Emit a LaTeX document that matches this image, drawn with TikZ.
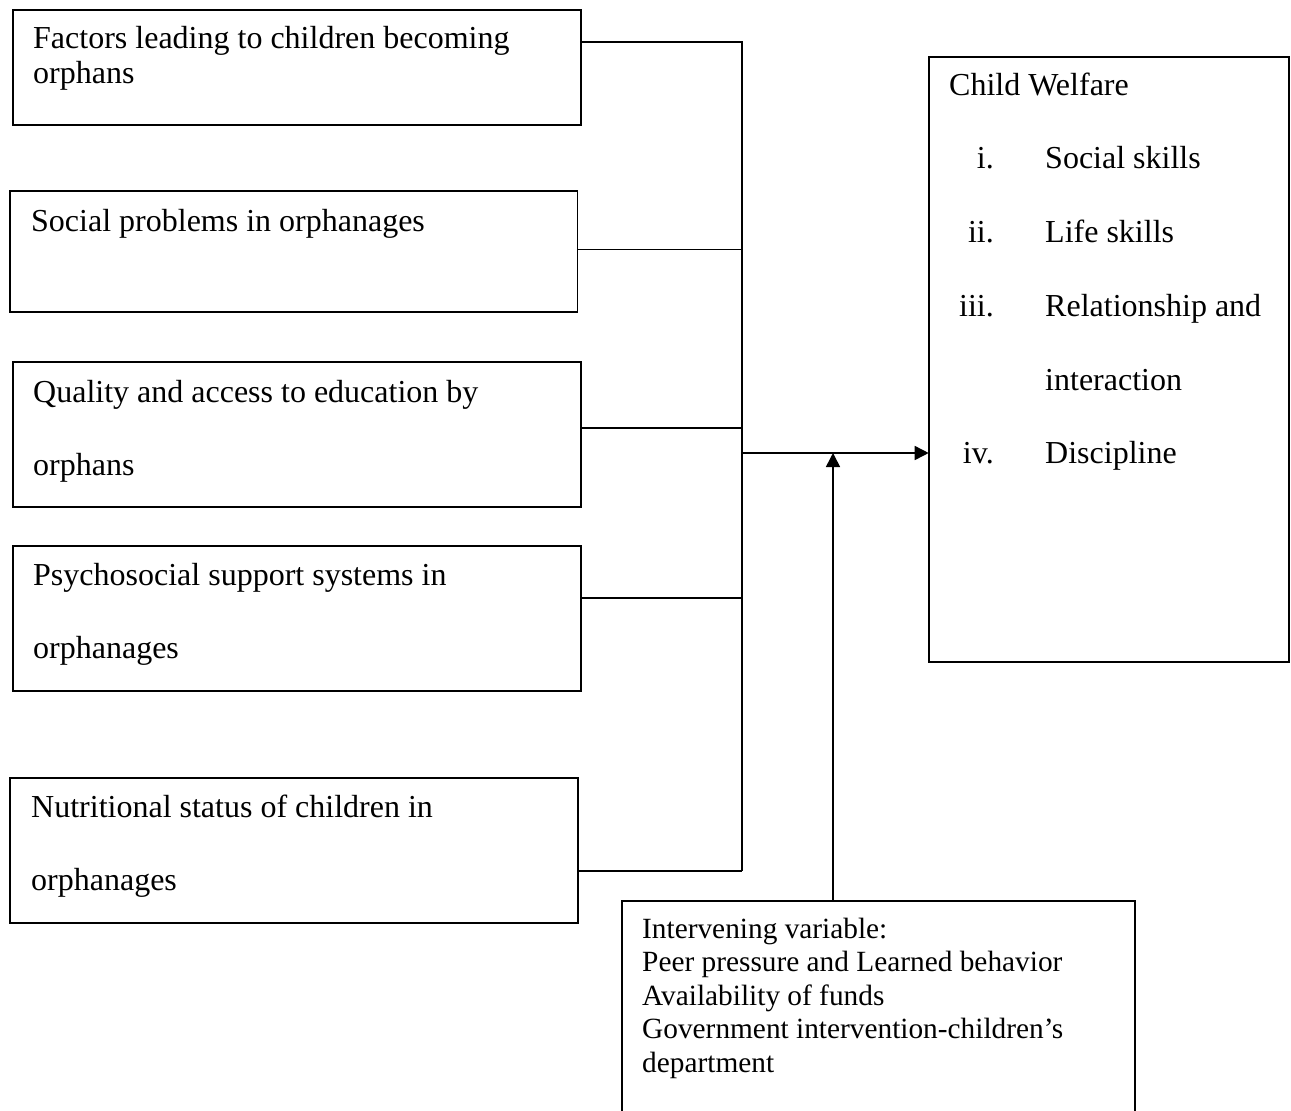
\documentclass[tikz,border=0pt]{standalone}
\usepackage{fontspec}
\setmainfont{Liberation Serif}
\usetikzlibrary{arrows.meta}
\tikzset{
  boxshape/.style={draw=black, line width=1.6pt, rectangle, inner sep=0pt, outer sep=0pt, anchor=north west},
  bigtxt/.style={anchor=base west, inner sep=0pt, font=\fontsize{32}{36.8}\selectfont},
  numtxt/.style={anchor=base east, inner sep=0pt, font=\fontsize{32}{36.8}\selectfont},
  smalltxt/.style={anchor=base west, inner sep=0pt, font=\fontsize{29.33}{33.6}\selectfont},
  conn/.style={draw=black, line width=1.6pt},
  arr/.style={draw=black, line width=1.6pt, -{Triangle[length=14pt,width=14pt]}}
}
\begin{document}
\begin{tikzpicture}[x=1pt,y=1pt]
\useasboundingbox (0,0) rectangle (1291,-1111);
\clip (0,0) rectangle (1291,-1111);
\fill[white] (0,0) rectangle (1291,-1111);

% left boxes
\node[boxshape, minimum width=567.9pt, minimum height=115pt] (b1) at (12.8,-10) {};
\node[boxshape, minimum width=567.1pt, minimum height=121pt] (b2) at (10.2,-190.7) {};
\node[boxshape, minimum width=567.9pt, minimum height=145pt] (b3) at (12.8,-361.7) {};
\node[boxshape, minimum width=567.9pt, minimum height=145pt] (b4) at (12.8,-546) {};
\node[boxshape, minimum width=568pt, minimum height=145pt] (b5) at (10,-778) {};

% right box and intervening box
\node[boxshape, minimum width=360.3pt, minimum height=605pt] (cw) at (928.7,-56.7) {};
\node[boxshape, minimum width=513pt, minimum height=240pt] (iv) at (622,-901) {};

% texts of left boxes
\node[bigtxt] (t1a) at (33,-48) {Factors leading to children becoming};
\node[bigtxt] (t1b) at (33,-83) {orphans};
\node[bigtxt] (t2a) at (31,-231) {Social problems in orphanages};
\node[bigtxt] (t3a) at (33,-402) {Quality and access to education by};
\node[bigtxt] (t3b) at (33,-475) {orphans};
\node[bigtxt] (t4a) at (33,-585) {Psychosocial support systems in};
\node[bigtxt] (t4b) at (33,-658) {orphanages};
\node[bigtxt] (t5a) at (31,-817) {Nutritional status of children in};
\node[bigtxt] (t5b) at (31,-890) {orphanages};

% texts of child welfare box
\node[bigtxt] (cwt) at (949,-95) {Child Welfare};
\node[numtxt] (n1) at (994,-168) {i.};
\node[bigtxt] (c1) at (1045,-168) {Social skills};
\node[numtxt] (n2) at (994,-242) {ii.};
\node[bigtxt] (c2) at (1045,-242) {Life skills};
\node[numtxt] (n3) at (994,-316) {iii.};
\node[bigtxt] (c3) at (1045,-316) {Relationship and};
\node[bigtxt] (c3b) at (1045,-390) {interaction};
\node[numtxt] (n4) at (994,-463) {iv.};
\node[bigtxt] (c4) at (1045,-463) {Discipline};

% intervening texts
\node[smalltxt] (i1) at (642,-938) {Intervening variable:};
\node[smalltxt] (i2) at (642,-971.5) {Peer pressure and Learned behavior};
\node[smalltxt] (i3) at (642,-1005) {Availability of funds};
\node[smalltxt] (i4) at (642,-1038.5) {Government intervention-children’s};
\node[smalltxt] (i5) at (642,-1072) {department};

% junction coordinates on trunk
\coordinate (j1) at (741.7,-41.7);
\coordinate (j2) at (741.7,-249.3);
\coordinate (j3) at (741.7,-428);
\coordinate (j4) at (741.7,-597.7);
\coordinate (j5) at (741.7,-871);
\coordinate (jm) at (741.7,-453);
\coordinate (ta) at (833,-453);

% connectors
\draw[conn] (b1.east |- j1) -- (j1) -- (j5);
\draw[conn] (b2.east |- j2) -- (j2);
\draw[conn] (b3.east |- j3) -- (j3);
\draw[conn] (b4.east |- j4) -- (j4);
\draw[conn] (b5.east |- j5) -- (j5);
\draw[arr] (jm) -- (cw.west |- jm);
\draw[arr] (iv.north -| ta) -- (ta);
\end{tikzpicture}
\end{document}
